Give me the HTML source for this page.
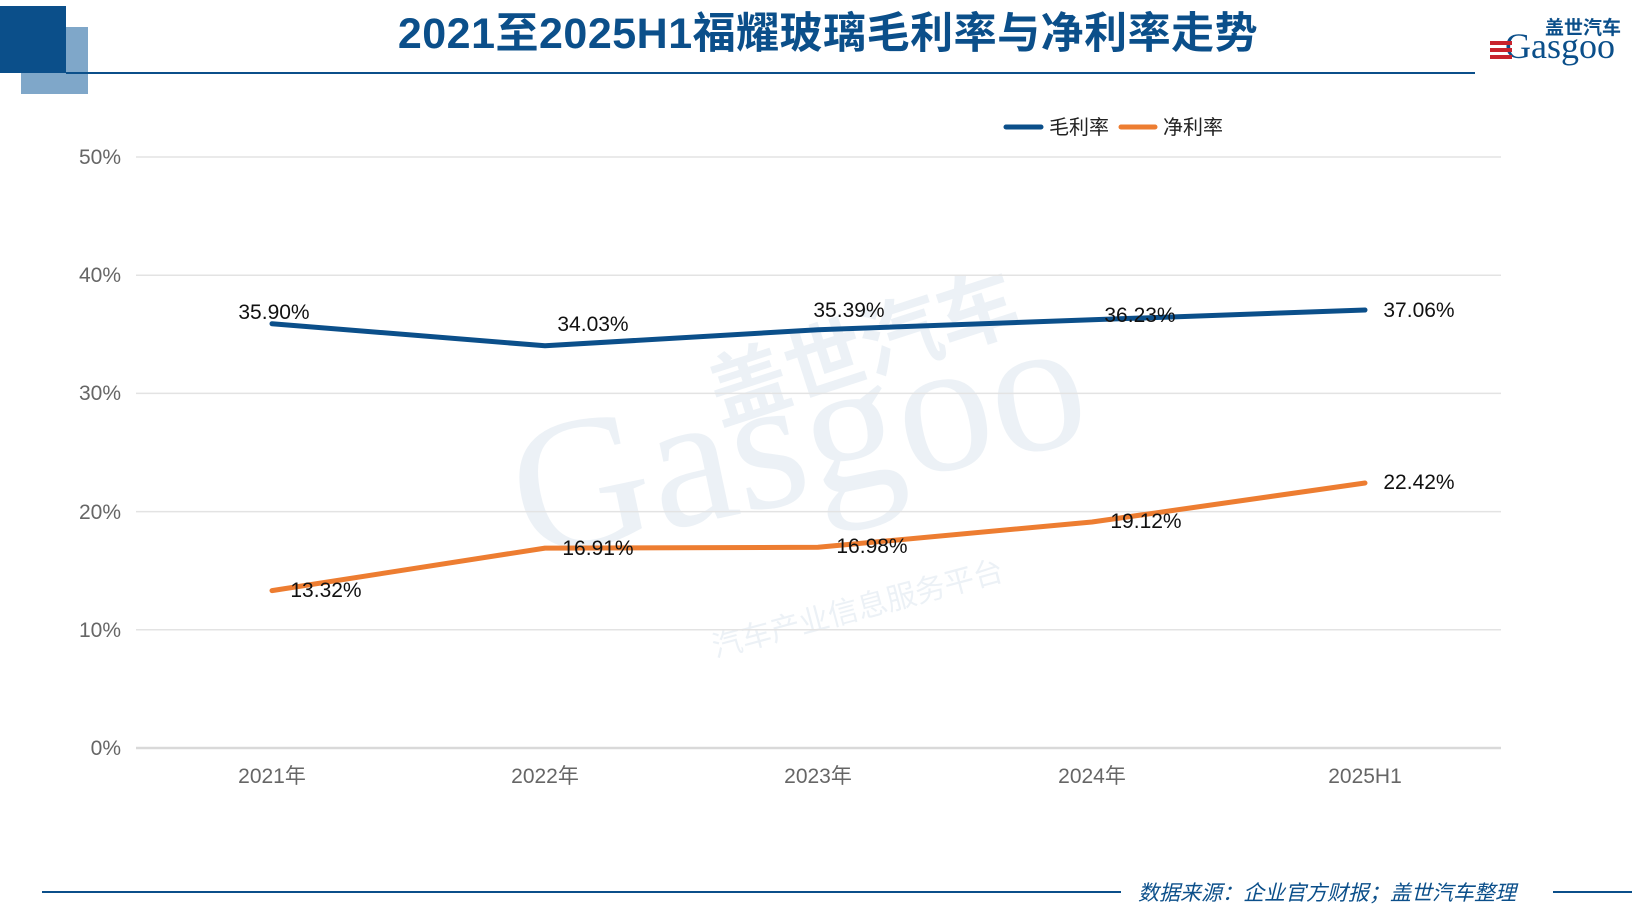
<!DOCTYPE html>
<html><head><meta charset="utf-8"><style>
body{margin:0;width:1640px;height:911px;background:#fff;overflow:hidden;position:relative;font-family:"Liberation Sans","Noto Sans CJK SC",sans-serif}
</style></head><body>
<svg width="1640" height="911" xmlns="http://www.w3.org/2000/svg" style="position:absolute;left:0;top:0">
<rect x="21" y="27" width="67" height="67" fill="#7fa7c9"/>
<rect x="0" y="6" width="66" height="67" fill="#0b4f8a"/>
<line x1="66" y1="73" x2="1475" y2="73" stroke="#0b4f8a" stroke-width="2"/>
<text x="828" y="48" text-anchor="middle" font-size="43" font-weight="bold" fill="#0b4f8a" letter-spacing="0.5" font-family="Liberation Sans,Noto Sans CJK SC,sans-serif">2021至2025H1福耀玻璃毛利率与净利率走势</text>
<!-- logo -->
<text x="1545" y="34" font-size="19" font-weight="bold" fill="#0b4f8a" font-family="Noto Sans CJK SC,sans-serif">盖世汽车</text>
<text x="1505" y="58" font-size="36" fill="#0b4f8a" font-family="Liberation Serif,serif">Gasgoo</text>
<rect x="1490" y="41" width="22" height="4" fill="#c8232c"/><rect x="1490" y="48" width="22" height="4" fill="#c8232c"/><rect x="1490" y="55" width="22" height="4" fill="#c8232c"/>
<!-- watermark -->
<g opacity="0.07" fill="#0b4f8a">
<text x="510" y="500" font-size="190" font-family="Liberation Serif,serif" transform="rotate(-12 800 450)">Gasgoo</text>
<text x="700" y="380" font-size="80" font-weight="bold" font-family="Noto Sans CJK SC,sans-serif" transform="rotate(-18 850 340)">盖世汽车</text>
<text x="700" y="620" font-size="30" font-family="Noto Sans CJK SC,sans-serif" transform="rotate(-15 850 580)">汽车产业信息服务平台</text>
</g>
<!-- grid -->
<g stroke="#e3e3e3" stroke-width="1.5">
<line x1="136" y1="157" x2="1501" y2="157"/><line x1="136" y1="275.2" x2="1501" y2="275.2"/><line x1="136" y1="393.4" x2="1501" y2="393.4"/><line x1="136" y1="511.6" x2="1501" y2="511.6"/><line x1="136" y1="629.8" x2="1501" y2="629.8"/>
<line x1="136" y1="748" x2="1501" y2="748" stroke="#d9d9d9" stroke-width="2.5"/>
</g>
<g font-size="21" fill="#666" text-anchor="end">
<text x="121" y="164">50%</text><text x="121" y="282">40%</text><text x="121" y="400">30%</text><text x="121" y="519">20%</text><text x="121" y="637">10%</text><text x="121" y="755">0%</text>
</g>
<g font-size="21" fill="#666" text-anchor="middle" font-family="Liberation Sans,Noto Sans CJK SC,sans-serif">
<text x="272" y="783">2021年</text><text x="545" y="783">2022年</text><text x="818" y="783">2023年</text><text x="1092" y="783">2024年</text><text x="1365" y="783">2025H1</text>
</g>
<!-- legend -->
<line x1="1006" y1="127" x2="1041" y2="127" stroke="#0b4f8a" stroke-width="5" stroke-linecap="round"/>
<text x="1049" y="134" font-size="20" fill="#222" font-family="Noto Sans CJK SC,sans-serif">毛利率</text>
<line x1="1121" y1="127" x2="1155" y2="127" stroke="#ed7d31" stroke-width="5" stroke-linecap="round"/>
<text x="1163" y="134" font-size="20" fill="#222" font-family="Noto Sans CJK SC,sans-serif">净利率</text>
<!-- series -->
<polyline points="272,323.7 545,345.8 818,329.7 1092,319.8 1365,310" fill="none" stroke="#0b4f8a" stroke-width="5" stroke-linejoin="round" stroke-linecap="round"/>
<polyline points="272,590.6 545,548.1 818,547.3 1092,522 1365,483" fill="none" stroke="#ed7d31" stroke-width="5" stroke-linejoin="round" stroke-linecap="round"/>
<g font-size="21" fill="#111" text-anchor="middle">
<text x="274" y="319">35.90%</text><text x="593" y="331">34.03%</text><text x="849" y="317">35.39%</text><text x="1140" y="322">36.23%</text><text x="1419" y="317">37.06%</text>
<text x="326" y="597">13.32%</text><text x="598" y="555">16.91%</text><text x="872" y="553">16.98%</text><text x="1146" y="528">19.12%</text><text x="1419" y="489">22.42%</text>
</g>
<!-- footer -->
<line x1="42" y1="892" x2="1121" y2="892" stroke="#0b4f8a" stroke-width="2"/>
<text x="1138" y="900" font-size="21" font-style="italic" fill="#0b4f8a" font-family="Noto Sans CJK SC,sans-serif">数据来源：企业官方财报；盖世汽车整理</text>
<line x1="1553" y1="892" x2="1632" y2="892" stroke="#0b4f8a" stroke-width="2"/>
</svg>
</body></html>
